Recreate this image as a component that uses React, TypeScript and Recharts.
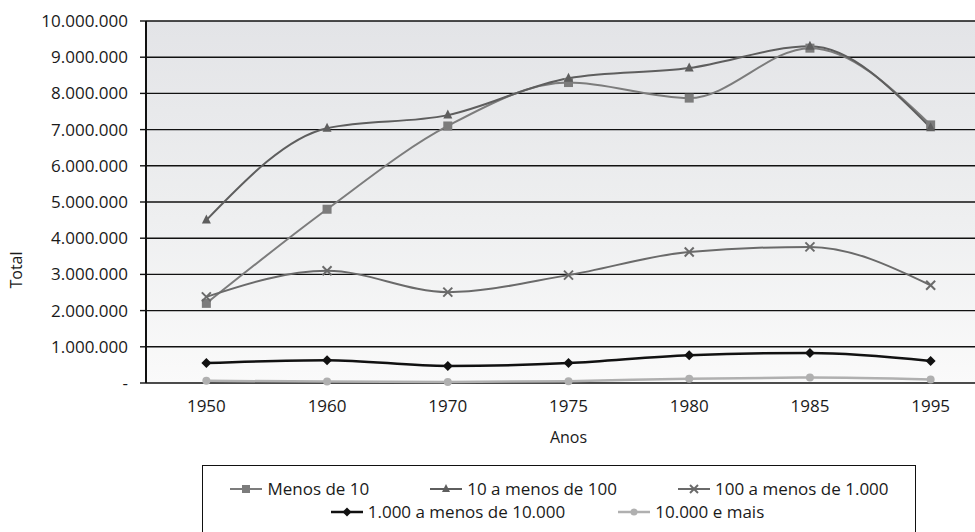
import React from "react";
import { LineChart, Line, XAxis, YAxis, CartesianGrid, Label } from "recharts";

const years = ["1950", "1960", "1970", "1975", "1980", "1985", "1995"];
const menos10 = [2200000, 4800000, 7100000, 8300000, 7870000, 9250000, 7130000];
const de10a100 = [4500000, 7040000, 7400000, 8420000, 8700000, 9300000, 7050000];
const de100a1000 = [2380000, 3100000, 2510000, 2980000, 3620000, 3760000, 2700000];
const de1000a10000 = [550000, 630000, 470000, 550000, 770000, 830000, 610000];
const mais10000 = [60000, 40000, 30000, 50000, 120000, 150000, 100000];
const yTicks = [0, 1000000, 2000000, 3000000, 4000000, 5000000, 6000000, 7000000, 8000000, 9000000, 10000000];

const series = [
  { key: "m10", name: "Menos de 10", values: menos10, color: "#7c7c7c", shape: "square", width: 2 },
  { key: "m100", name: "10 a menos de 100", values: de10a100, color: "#5e5e5e", shape: "triangle", width: 2 },
  { key: "m1000", name: "100 a menos de 1.000", values: de100a1000, color: "#6a6a6a", shape: "x", width: 2 },
  { key: "m10000", name: "1.000 a menos de 10.000", values: de1000a10000, color: "#111111", shape: "diamond", width: 2.5 },
  { key: "mais", name: "10.000 e mais", values: mais10000, color: "#b0b0b0", shape: "circle", width: 2.5 },
];

const data = years.map((y, i) => {
  const row: any = { year: y, idx: i + 0.5 };
  series.forEach((s) => (row[s.key] = s.values[i]));
  return row;
});

const fmt = (v: number) => (v === 0 ? "-" : String(v).replace(/\B(?=(\d{3})+(?!\d))/g, "."));

function Marker({ cx, cy, shape, color, size = 4.5 }: any) {
  if (cx == null || cy == null) return null;
  const s = size;
  if (shape === "square") return <rect x={cx - s} y={cy - s} width={2 * s} height={2 * s} fill={color} />;
  if (shape === "triangle")
    return <polygon points={`${cx},${cy - s - 1} ${cx - s},${cy + s - 1} ${cx + s},${cy + s - 1}`} fill={color} />;
  if (shape === "diamond")
    return <polygon points={`${cx},${cy - s - 0.5} ${cx + s + 0.5},${cy} ${cx},${cy + s + 0.5} ${cx - s - 0.5},${cy}`} fill={color} />;
  if (shape === "circle") return <circle cx={cx} cy={cy} r={s - 0.5} fill={color} />;
  return (
    <g stroke={color} strokeWidth={2}>
      <line x1={cx - s} y1={cy - s} x2={cx + s} y2={cy + s} />
      <line x1={cx - s} y1={cy + s} x2={cx + s} y2={cy - s} />
    </g>
  );
}

function LegendIcon({ s }: any) {
  return (
    <svg width={34} height={14} style={{ marginRight: 4 }}>
      <line x1={1} y1={7} x2={33} y2={7} stroke={s.color} strokeWidth={s.width} />
      <Marker cx={17} cy={7} shape={s.shape} color={s.color} size={4} />
    </svg>
  );
}

function LegendItem({ s }: any) {
  return (
    <div style={{ display: "flex", alignItems: "center" }}>
      <LegendIcon s={s} />
      <span>{s.name}</span>
    </div>
  );
}

function LegendBox() {
  return (
    <div
      style={{
        position: "absolute",
        left: 202,
        top: 465,
        border: "1.5px solid #111",
        width: 714,
        height: 80,
        boxSizing: "border-box",
        fontFamily: "'Open Sans', sans-serif",
        fontSize: 17,
        color: "#1a1a1a",
        paddingTop: 11,
        lineHeight: "23px",
      }}
    >
      <div style={{ display: "flex", justifyContent: "center", gap: 60 }}>
        {series.slice(0, 3).map((s) => (
          <LegendItem key={s.key} s={s} />
        ))}
      </div>
      <div style={{ display: "flex", justifyContent: "center", gap: 52, marginLeft: -24 }}>
        {series.slice(3).map((s) => (
          <LegendItem key={s.key} s={s} />
        ))}
      </div>
    </div>
  );
}

export default function App() {
  const tickStyle = { fill: "#1a1a1a", fontSize: 17, fontFamily: "'Open Sans', sans-serif" };
  return (
    <div style={{ position: "fixed", left: 0, top: 0, width: 975, height: 532, overflow: "hidden", background: "#fff" }}>
      <LineChart width={1000} height={532} data={data} margin={{ top: 21, right: 9, bottom: 79, left: 0 }}>
        <defs>
          <linearGradient id="bg" x1="0" y1="0" x2="0" y2="1">
            <stop offset="0%" stopColor="#e3e4e7" />
            <stop offset="55%" stopColor="#eeeff0" />
            <stop offset="100%" stopColor="#fafafa" />
          </linearGradient>
        </defs>
        <CartesianGrid vertical={false} stroke="#111" strokeWidth={1.4} fill="url(#bg)" fillOpacity={1} />
        <XAxis
          xAxisId="b"
          type="number"
          dataKey="idx"
          domain={[0, 7]}
          ticks={[0, 1, 2, 3, 4, 5, 6, 7]}
          tick={false}
          tickSize={6}
          height={0}
          axisLine={{ stroke: "#111", strokeWidth: 2 }}
          tickLine={{ stroke: "#111", strokeWidth: 1.5 }}
        />
        <XAxis
          xAxisId="l"
          type="number"
          dataKey="idx"
          domain={[0, 7]}
          ticks={[0.5, 1.5, 2.5, 3.5, 4.5, 5.5, 6.5]}
          tickFormatter={(v: number) => years[Math.floor(v)]}
          tick={tickStyle}
          tickSize={0}
          tickMargin={17}
          axisLine={false}
          tickLine={false}
          height={70}
        >
          <Label value="Anos" position="insideBottom" offset={10} style={{ ...tickStyle, fontSize: 16 }} />
        </XAxis>
        <YAxis
          type="number"
          domain={[0, 10000000]}
          ticks={yTicks}
          interval={0}
          tickFormatter={fmt}
          tick={tickStyle}
          width={146}
          tickSize={6}
          tickMargin={12}
          axisLine={{ stroke: "#111", strokeWidth: 2 }}
          tickLine={{ stroke: "#111", strokeWidth: 1.4 }}
        >
          <Label
            content={() => (
              <text
                x={22}
                y={270}
                transform="rotate(-90, 22, 270)"
                textAnchor="middle"
                style={{ ...tickStyle, fontSize: 16 }}
                fill="#1a1a1a"
              >
                Total
              </text>
            )}
          />
        </YAxis>
        {series.map((s) => (
          <Line
            key={s.key}
            xAxisId="l"
            type="monotone"
            dataKey={s.key}
            name={s.name}
            stroke={s.color}
            strokeWidth={s.width}
            isAnimationActive={false}
            dot={(p: any) => <Marker key={`${s.key}-${p.index}`} cx={p.cx} cy={p.cy} shape={s.shape} color={s.color} />}
            activeDot={false}
          />
        ))}
      </LineChart>
      <LegendBox />
    </div>
  );
}
